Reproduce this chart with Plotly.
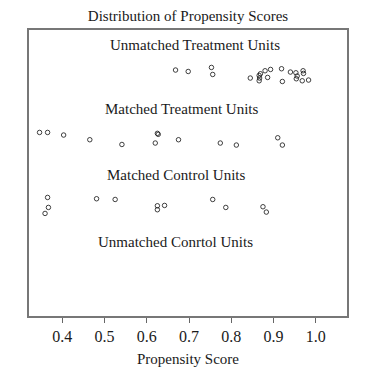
import plotly.graph_objects as go

# ---- data ----
group_names = ["Unmatched Treatment Units", "Matched Treatment Units",
               "Matched Control Units", "Unmatched Conrtol Units"]
group_levels = [4, 3, 2, 1]

unmatched_treat_x = [0.668, 0.698, 0.753, 0.756, 0.845, 0.866, 0.867, 0.866, 0.869,
                     0.880, 0.893, 0.886, 0.919, 0.921, 0.940, 0.953, 0.956, 0.970,
                     0.971, 0.954, 0.968, 0.983]
unmatched_treat_j = [0.074, 0.052, 0.114, 0.006, -0.049, -0.009, -0.049, -0.091, 0.017,
                     0.063, 0.083, -0.040, 0.094, -0.102, 0.043, 0.032, -0.018, 0.063,
                     0.022, -0.060, -0.091, -0.080]

matched_treat_x = [0.346, 0.365, 0.403, 0.465, 0.541, 0.625, 0.627, 0.620, 0.675,
                   0.774, 0.812, 0.910, 0.921]
matched_treat_j = [0.114, 0.114, 0.074, 0.002, -0.071, 0.100, 0.085, -0.049, 0.002,
                   -0.049, -0.080, 0.032, -0.080]

matched_ctrl_x = [0.365, 0.367, 0.359, 0.481, 0.525, 0.625, 0.625, 0.642,
                  0.756, 0.787, 0.875, 0.883]
matched_ctrl_j = [0.114, -0.040, -0.132, 0.094, 0.083, -0.014, -0.075, -0.009,
                  0.083, -0.040, -0.029, -0.111]

unmatched_ctrl_x = []
unmatched_ctrl_j = []

label_x = [0.714, 0.683, 0.669, 0.669]
label_y_offset = [0.46, 0.48, 0.46, 0.43]

tick_vals = [0.4, 0.5, 0.6, 0.7, 0.8, 0.9, 1.0]
tick_text = ["0.4", "0.5", "0.6", "0.7", "0.8", "0.9", "1.0"]

FONT = "Liberation Serif, Times New Roman, serif"

W, H = 382, 364  # page body has an 8px margin

fig = go.Figure()
series = [(unmatched_treat_x, unmatched_treat_j), (matched_treat_x, matched_treat_j),
          (matched_ctrl_x, matched_ctrl_j), (unmatched_ctrl_x, unmatched_ctrl_j)]
for (xs, js), lvl, name in zip(series, group_levels, group_names):
    fig.add_trace(go.Scatter(
        x=xs, y=[lvl + j for j in js], mode="markers", name=name,
        marker=dict(symbol="circle-open", size=4.5, color="#111",
                    line=dict(width=0.8, color="#111")),
        showlegend=False, hoverinfo="x"))

for name, lvl, lx, off in zip(group_names, group_levels, label_x, label_y_offset):
    fig.add_annotation(x=lx, y=lvl + off, text=name, showarrow=False,
                       font=dict(family=FONT, size=15, color="#1a1a1a"),
                       xanchor="center", yanchor="middle")

fig.update_layout(
    width=W, height=H,
    margin=dict(l=21, r=43, t=22, b=56),
    paper_bgcolor="white", plot_bgcolor="white",
    title=dict(text="Distribution of Propensity Scores", x=0.5, xanchor="center",
               xref="paper", y=1 - 8 / H, yanchor="middle",
               font=dict(family=FONT, size=15, color="#1a1a1a")),
    xaxis=dict(range=[0.321, 1.074], tickvals=tick_vals, ticktext=tick_text,
               ticks="outside", ticklen=5, tickcolor="#666", tickwidth=1,
               showline=True, linecolor="#777", linewidth=1.5, mirror=True,
               showgrid=False, zeroline=False, automargin=False,
               tickfont=dict(family=FONT, size=16, color="#1a1a1a"),
               title=dict(text="Propensity Score", standoff=10,
                          font=dict(family=FONT, size=15, color="#1a1a1a"))),
    yaxis=dict(range=[0.29, 4.69], showticklabels=False, ticks="",
               showline=True, linecolor="#777", linewidth=1.5, mirror=True,
               showgrid=False, zeroline=False, automargin=False),
)

fig.write_html("out.html")
